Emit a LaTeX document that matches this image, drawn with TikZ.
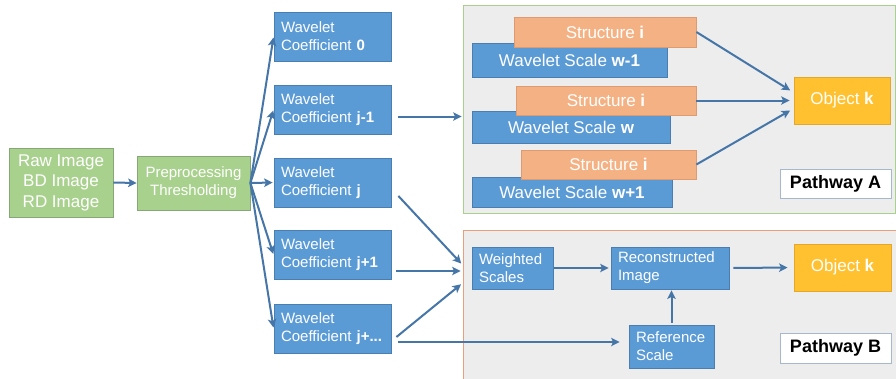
\documentclass[tikz,border=0pt]{standalone}
\usepackage{fontspec}
\setmainfont{Liberation Sans}
\usetikzlibrary{arrows.meta}
\definecolor{wblue}{HTML}{5B9BD5}
\definecolor{wblueline}{HTML}{4A7DB0}
\definecolor{pgreen}{HTML}{A9D18E}
\definecolor{pgreenline}{HTML}{86A776}
\definecolor{sorange}{HTML}{F4B183}
\definecolor{sorangeline}{HTML}{DE9A70}
\definecolor{ogold}{HTML}{FFC12F}
\definecolor{ogoldline}{HTML}{E3A72A}
\definecolor{panel}{HTML}{EDEDED}
\definecolor{panelAline}{HTML}{A9D18E}
\definecolor{panelBline}{HTML}{E9A07A}
\definecolor{labline}{HTML}{A8B8CC}
\definecolor{arrowc}{HTML}{4676A8}
\newcommand\fbig{\fontsize{17}{20.5}\selectfont}
\newcommand\fsmall{\fontsize{15}{18}\selectfont}
\newcommand\jmore{j+...}
\tikzset{
  box/.style={draw, line width=0.8pt, text=white, inner sep=0pt, align=center},
  greenbox/.style={box, fill=pgreen, draw=pgreenline},
  bluebox/.style={box, fill=wblue, draw=wblueline},
  leftbox/.style={bluebox, align=left, inner xsep=7pt, font=\fsmall},
  structbox/.style={box, fill=sorange, draw=sorangeline, font=\fbig},
  objbox/.style={box, fill=ogold, draw=ogoldline, font=\fbig,
    minimum width=97pt, minimum height=47pt},
  labbox/.style={box, fill=white, draw=labline, text=black,
    font=\fontsize{18}{20}\selectfont\bfseries, minimum width=111pt, minimum height=30pt},
  arr/.style={draw=arrowc, line width=2pt, -{Stealth[length=8.5pt,width=8.5pt,inset=2pt]}},
}

\begin{document}
\begin{tikzpicture}[x=1pt,y=-1pt]
\path[use as bounding box, fill=white] (0,0) rectangle (896,378);
\clip (0,0) rectangle (896,378);
% panels
\node[box, fill=panel, draw=panelAline, minimum width=432pt, minimum height=208pt] (paA) at (679,109) {};
\node[box, fill=panel, draw=panelBline, minimum width=434pt, minimum height=156pt] (paB) at (680,308) {};
% inputs
\node[greenbox, font=\fbig, minimum width=104pt, minimum height=69pt] (raw) at (61,182.5)
  {Raw Image\\BD Image\\RD Image};
\node[greenbox, font=\fsmall, minimum width=113pt, minimum height=54pt] (prep) at (193.5,183)
  {Preprocessing\\Thresholding};
\draw[arr] (raw.east) -- (prep.west);
% wavelet coefficients
\foreach \n/\y/\l in {0/36.5/0,1/109.5/j-1,2/182.5/j,3/255/j+1,4/328.5/\jmore}
  {\node[leftbox, text width=103pt, minimum height=49pt] (wc\n) at (332.5,\y)
     {Wavelet\\Coefficient \textbf{\l}};
   \draw[arr, shorten >=1pt] (prep.east) -- (wc\n.west);}
% pathway A
\node[bluebox, font=\fbig, minimum width=195pt, minimum height=34pt] (ws1) at (569.5,60) {Wavelet Scale \textbf{w-1}};
\node[bluebox, font=\fbig, minimum width=198pt, minimum height=32pt] (ws2) at (571,127) {Wavelet Scale \textbf{w}};
\node[bluebox, font=\fbig, minimum width=200pt, minimum height=30pt] (ws3) at (572,192.5) {Wavelet Scale \textbf{w+1}};
\node[structbox, minimum width=182pt, minimum height=30pt] (st1) at (605,32) {Structure \textbf{i}};
\node[structbox, minimum width=180pt, minimum height=29pt] (st2) at (606,100.5) {Structure \textbf{i}};
\node[structbox, minimum width=175pt, minimum height=29pt] (st3) at (608.5,164.5) {Structure \textbf{i}};
\node[objbox, minimum width=96pt] (objA) at (842,100.5) {Object \textbf{k}};
\node[labbox, minimum height=29pt] (labA) at (835.5,183.5) {Pathway A};
\draw[arr, shorten >=4pt] (st1.east) -- ([yshift=8pt]objA.west);
\draw[arr, shorten >=4pt] (st2.east) -- (objA.west);
\draw[arr, shorten >=4pt] (st3.east) -- ([yshift=-8pt]objA.west);
\coordinate (j1out) at ([xshift=7pt,yshift=-7pt]wc1.east);
\draw[arr, shorten >=1pt] (j1out) -- (j1out -| paA.west);
% pathway B
\node[leftbox, text width=67pt, minimum height=42pt] (wsB) at (512.5,268) {Weighted\\Scales};
\node[leftbox, text width=104pt, minimum height=42pt] (rec) at (670,268) {Reconstructed\\Image};
\node[leftbox, text width=71pt, minimum height=43pt] (ref) at (671.5,346.5) {Reference\\Scale};
\node[objbox] (objB) at (842.5,267.5) {Object \textbf{k}};
\node[labbox] (labB) at (835.5,348) {Pathway B};
\draw[arr, shorten <=1pt, shorten >=2pt] (wsB.east) -- (rec.west);
\draw[arr, shorten <=4pt, shorten >=6pt] (rec.east) -- (objB.west);
\draw[arr, shorten <=2pt, shorten >=1pt] (ref.north) -- (ref.north |- rec.south);
\coordinate (bin) at (paB.west |- wsB.west);
\draw[arr, shorten >=2pt] ([xshift=7pt,yshift=-13.5pt]wc2.east) -- ([yshift=3pt]bin);
\draw[arr, shorten >=2pt] ([xshift=5pt,yshift=-16pt]wc3.east) -- ([yshift=-3pt]bin);
\draw[arr, shorten >=2pt] ([xshift=5pt,yshift=-8.5pt]wc4.east) -- ([yshift=-15pt]bin);
\coordinate (j4out) at ([xshift=7pt,yshift=-13.5pt]wc4.east);
\draw[arr, shorten >=9pt] (j4out) -- (j4out -| ref.west);
\end{tikzpicture}
\end{document}
